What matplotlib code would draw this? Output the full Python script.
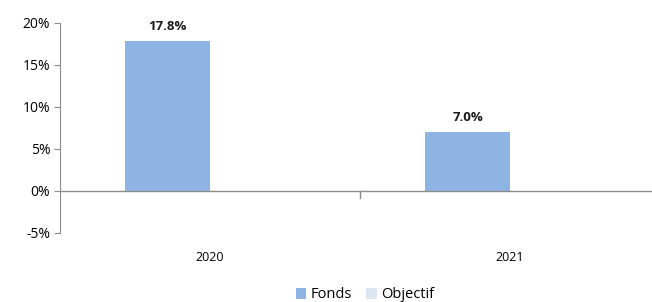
import matplotlib
matplotlib.use("Agg")
import matplotlib.pyplot as plt
import numpy as np
from matplotlib.ticker import FuncFormatter

categories = ["2020", "2021"]
fonds = [17.8, 7.0]
objectif = [0.0, -0.1]
yticks = [-5, 0, 5, 10, 15, 20]

plt.rcParams['font.family'] = ['Open Sans', 'DejaVu Sans']

fig = plt.figure(figsize=(6.52, 3.02), dpi=100)
W, H = 652, 302
ax = fig.add_axes([60 / W, 69 / H, 600 / W, 210.3 / H])

x = np.arange(len(categories))
bw = 0.283
b1 = ax.bar(x - bw / 2, fonds, bw, color="#8EB4E3", label="Fonds")
b2 = ax.bar(x + bw / 2, objectif, bw, color="#DCE6F2", label="Objectif")

for xi, v in zip(x, fonds):
    ax.text(xi - bw / 2, v + 1.0, f"{v:.1f}%", ha="center", va="bottom",
            fontsize=9.5, fontweight="bold", color="#1a1a1a")

ax.set_xlim(-0.5, 1.5)
ax.set_ylim(-5, 20)
ax.set_yticks(yticks)
ax.yaxis.set_major_formatter(FuncFormatter(lambda v, p: f"{v:.0f}%"))

for s in ["top", "right", "bottom"]:
    ax.spines[s].set_visible(False)
ax.spines["left"].set_color("#8c8c8c")
ax.axhline(0, color="#8c8c8c", lw=1, zorder=3)

ax.set_xticks(x)
ax.set_xticklabels(categories)
ax.tick_params(axis="x", length=0, labelsize=9, pad=13)
# category separator tick hanging from zero line
ax.plot([0.5, 0.5], [0, -0.8], color="#8c8c8c", lw=1, clip_on=False)
ax.tick_params(axis="y", length=4, color="#8c8c8c", labelsize=10, pad=3)

leg = fig.legend(handles=[b1, b2], labels=["Fonds", "Objectif"], loc="center",
                 bbox_to_anchor=(365 / W, 1 - 295 / H), ncol=2, frameon=False,
                 fontsize=10.5, handlelength=0.7, handleheight=0.7,
                 handletextpad=0.3, columnspacing=1.0)

fig.savefig("out.png", dpi=100)
